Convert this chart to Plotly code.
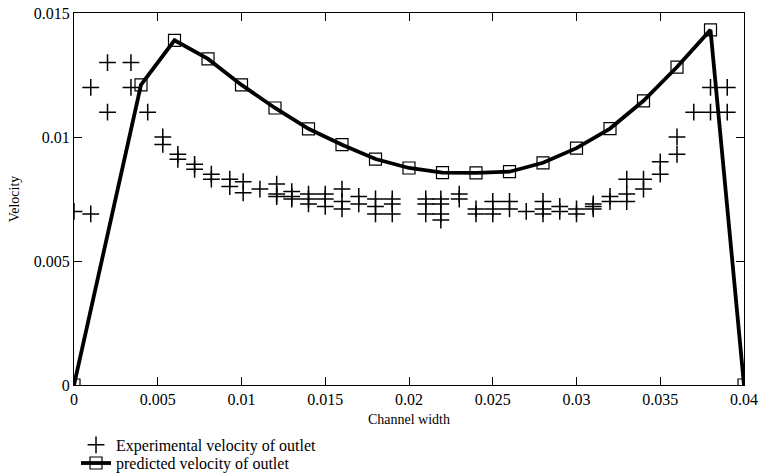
import plotly.graph_objects as go

# Predicted velocity (line with square markers)
pred_x = [0, 0.004, 0.006, 0.008, 0.010, 0.012, 0.014, 0.016, 0.018, 0.020, 0.022,
          0.024, 0.026, 0.028, 0.030, 0.032, 0.034, 0.036, 0.038, 0.040]
pred_y = [0, 0.0121, 0.0139, 0.01315, 0.0121, 0.01117, 0.01033, 0.00969, 0.00911, 0.00875, 0.00856,
          0.00855, 0.0086, 0.00896, 0.00955, 0.01034, 0.01146, 0.01282, 0.01432, 0]

# Experimental velocity (plus markers), columns of x with one or more y values
exp_cols_x = [0, 0.001, 0.002, 0.0034, 0.0044, 0.0053, 0.0062, 0.0072, 0.0082, 0.0093,
              0.0101, 0.0111, 0.0121, 0.0130, 0.0140, 0.0150, 0.0160, 0.0170, 0.0180, 0.0190,
              0.0210, 0.0219, 0.0230, 0.0240, 0.0250, 0.0260, 0.0270, 0.0280, 0.0290, 0.0300,
              0.0310, 0.0320, 0.0330, 0.0340, 0.0350, 0.0360, 0.0370, 0.0380, 0.0390]
exp_cols_y = [
    [0.0070],
    [0.0120, 0.0069],
    [0.0130, 0.0110],
    [0.0130, 0.0120],
    [0.0110],
    [0.0100, 0.0097],
    [0.0093, 0.0091],
    [0.0089, 0.0087],
    [0.0085, 0.0083],
    [0.0083, 0.0080],
    [0.0082, 0.00775],
    [0.0079],
    [0.0081, 0.0077, 0.0076],
    [0.0078, 0.0076, 0.0075],
    [0.0077, 0.0075, 0.0073],
    [0.0077, 0.0075, 0.0072],
    [0.0079, 0.0074, 0.0071],
    [0.0076, 0.0073],
    [0.0075, 0.0072, 0.0069],
    [0.0075, 0.0073, 0.0069],
    [0.0075, 0.0073, 0.0069],
    [0.0075, 0.0073, 0.0069, 0.00665],
    [0.0077, 0.0075],
    [0.0071, 0.0069],
    [0.0074, 0.0071, 0.0069],
    [0.0074, 0.0071],
    [0.0070],
    [0.0074, 0.0071, 0.0069],
    [0.0072, 0.0070],
    [0.0071, 0.0069],
    [0.0073, 0.0072, 0.0071],
    [0.0076, 0.0074],
    [0.0083, 0.0077, 0.0074],
    [0.0083, 0.0079],
    [0.0090, 0.0085],
    [0.0100, 0.0093],
    [0.0110],
    [0.0120, 0.0110],
    [0.0120, 0.0110],
]

x_tickvals = [0, 0.005, 0.01, 0.015, 0.02, 0.025, 0.03, 0.035, 0.04]
x_ticktext = ["0", "0.005", "0.01", "0.015", "0.02", "0.025", "0.03", "0.035", "0.04"]
y_tickvals = [0, 0.005, 0.01, 0.015]
y_ticktext = ["0", "0.005", "0.01", "0.015"]

exp_x = []
exp_y = []
for cx, ys in zip(exp_cols_x, exp_cols_y):
    for yv in ys:
        exp_x.append(cx)
        exp_y.append(yv)

FONT = "Times New Roman, Liberation Serif, DejaVu Serif, serif"

fig = go.Figure()
fig.add_trace(go.Scatter(
    x=exp_x, y=exp_y, mode="markers", name="Experimental velocity of outlet",
    legend="legend",
    marker=dict(symbol="cross-thin", size=12, color="black",
                line=dict(color="black", width=1.5)),
))
fig.add_trace(go.Scatter(
    x=pred_x, y=pred_y, mode="lines+markers", name="predicted velocity of outlet",
    legend="legend2",
    line=dict(color="black", width=3.8),
    marker=dict(symbol="square-open", size=12, color="black",
                line=dict(color="black", width=1.2)),
))

axis_common = dict(showgrid=False, zeroline=False, showline=True, linecolor="black",
                   linewidth=1, mirror="ticks", ticks="inside", ticklen=8,
                   tickcolor="black", tickwidth=1, automargin=False,
                   ticklabeloverflow="allow",
                   tickfont=dict(family=FONT, size=16, color="black"))

fig.update_xaxes(range=[0, 0.04], tickvals=x_tickvals, ticktext=x_ticktext,
                 title=dict(text="Channel width", font=dict(family=FONT, size=14, color="black"),
                            standoff=6),
                 **axis_common)
fig.update_yaxes(range=[0, 0.015], tickvals=y_tickvals, ticktext=y_ticktext,
                 title=dict(text="Velocity", font=dict(family=FONT, size=14, color="black"),
                            standoff=10),
                 **axis_common)

legend_common = dict(xanchor="left", yanchor="middle",
                     font=dict(family=FONT, size=16, color="black"),
                     bgcolor="rgba(0,0,0,0)", itemwidth=30)

fig.update_layout(
    width=761, height=475,
    margin=dict(l=74, r=17, t=13, b=90, autoexpand=False),
    paper_bgcolor="white", plot_bgcolor="white",
    font=dict(family=FONT, color="black"),
    legend=dict(x=0.003, y=-0.161, **legend_common),
    legend2=dict(x=0.003, y=-0.21, **legend_common),
    showlegend=True,
)

fig.write_html("out.html", config={"displayModeBar": False},
               post_script="document.body.style.margin='0';")
